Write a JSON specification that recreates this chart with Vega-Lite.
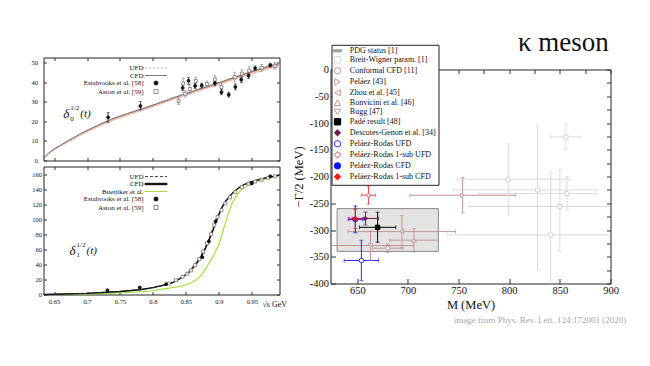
{
"$schema": "https://vega.github.io/schema/vega-lite/v6.json",
"background": "white",
"padding": {"left": 30.5, "top": 28.5, "right": 0, "bottom": 0},
"title": {"text": "κ meson", "anchor": "end", "font": "Liberation Serif", "fontSize": 27, "fontWeight": "normal", "color": "#111", "offset": 1, "dx": -18, "dy": 14},
"config": {"view": {"stroke": "#222", "strokeWidth": 1}, "axis": {"grid": false, "domain": false, "tickColor": "#333", "labelColor": "#111"}},
"datasets": {
"d0c": [
{"s":0.634,"cfd":0,"ufd":0,"lo":0,"hi":0},
{"s":0.636,"cfd":1.8,"ufd":1.8,"lo":1.3,"hi":1.9},
{"s":0.64,"cfd":3.2,"ufd":3.2,"lo":2.6,"hi":3.3},
{"s":0.645,"cfd":4.6,"ufd":4.6,"lo":3.9,"hi":4.7},
{"s":0.65,"cfd":5.9,"ufd":5.9,"lo":5.1,"hi":6.0},
{"s":0.66,"cfd":7.8,"ufd":7.8,"lo":7.0,"hi":7.9},
{"s":0.67,"cfd":9.8,"ufd":9.8,"lo":8.9,"hi":9.9},
{"s":0.68,"cfd":11.7,"ufd":11.7,"lo":10.8,"hi":11.8},
{"s":0.69,"cfd":13.6,"ufd":13.6,"lo":12.6,"hi":13.7},
{"s":0.70,"cfd":15.3,"ufd":15.3,"lo":14.3,"hi":15.5},
{"s":0.72,"cfd":18.5,"ufd":18.5,"lo":17.4,"hi":18.7},
{"s":0.74,"cfd":21.4,"ufd":21.4,"lo":20.3,"hi":21.6},
{"s":0.76,"cfd":23.8,"ufd":23.9,"lo":22.7,"hi":24.0},
{"s":0.78,"cfd":25.9,"ufd":26.0,"lo":24.8,"hi":26.2},
{"s":0.80,"cfd":28.2,"ufd":28.3,"lo":27.1,"hi":28.5},
{"s":0.82,"cfd":30.6,"ufd":30.7,"lo":29.5,"hi":30.9},
{"s":0.84,"cfd":33.0,"ufd":33.1,"lo":31.9,"hi":33.3},
{"s":0.86,"cfd":35.2,"ufd":35.4,"lo":34.1,"hi":35.5},
{"s":0.88,"cfd":37.4,"ufd":37.6,"lo":36.3,"hi":37.7},
{"s":0.90,"cfd":39.6,"ufd":39.8,"lo":38.4,"hi":39.9},
{"s":0.92,"cfd":41.9,"ufd":42.1,"lo":40.6,"hi":42.2},
{"s":0.94,"cfd":44.2,"ufd":44.5,"lo":42.9,"hi":44.5},
{"s":0.96,"cfd":46.4,"ufd":46.8,"lo":45.0,"hi":46.7},
{"s":0.98,"cfd":48.4,"ufd":48.9,"lo":46.9,"hi":48.7},
{"s":0.992,"cfd":49.4,"ufd":50.0,"lo":47.9,"hi":49.7}
],
"d0p": [
{"series":"Aston et al. [59]","s":0.839,"v":30.3,"lo":28.5,"hi":32.1},
{"series":"Aston et al. [59]","s":0.849,"v":34,"lo":32.3,"hi":35.7},
{"series":"Aston et al. [59]","s":0.846,"v":39.3,"lo":37,"hi":42},
{"series":"Aston et al. [59]","s":0.856,"v":36.5,"lo":34,"hi":39},
{"series":"Aston et al. [59]","s":0.865,"v":40.5,"lo":38.5,"hi":42.5},
{"series":"Aston et al. [59]","s":0.882,"v":39,"lo":37.5,"hi":40.5},
{"series":"Aston et al. [59]","s":0.894,"v":41.3,"lo":39.3,"hi":43.3},
{"series":"Aston et al. [59]","s":0.904,"v":37.5,"lo":35,"hi":40},
{"series":"Aston et al. [59]","s":0.924,"v":42.5,"lo":40,"hi":45},
{"series":"Aston et al. [59]","s":0.935,"v":44.3,"lo":42.3,"hi":46.3},
{"series":"Aston et al. [59]","s":0.946,"v":45.8,"lo":43.8,"hi":47.8},
{"series":"Aston et al. [59]","s":0.965,"v":47.2,"lo":45.5,"hi":48.9},
{"series":"Aston et al. [59]","s":0.985,"v":48.2,"lo":46.5,"hi":49.9},
{"series":"Estabrooks et al. [58]","s":0.732,"v":22,"lo":19.5,"hi":24.5},
{"series":"Estabrooks et al. [58]","s":0.781,"v":27.8,"lo":25.8,"hi":30},
{"series":"Estabrooks et al. [58]","s":0.845,"v":37,"lo":35.5,"hi":38.5},
{"series":"Estabrooks et al. [58]","s":0.854,"v":40.6,"lo":38.8,"hi":42.4},
{"series":"Estabrooks et al. [58]","s":0.864,"v":38,"lo":36.6,"hi":39.4},
{"series":"Estabrooks et al. [58]","s":0.874,"v":38.2,"lo":37,"hi":39.4},
{"series":"Estabrooks et al. [58]","s":0.894,"v":39.5,"lo":38,"hi":41},
{"series":"Estabrooks et al. [58]","s":0.904,"v":34.8,"lo":33.5,"hi":36.1},
{"series":"Estabrooks et al. [58]","s":0.915,"v":33.5,"lo":32.3,"hi":34.7},
{"series":"Estabrooks et al. [58]","s":0.925,"v":37.5,"lo":36,"hi":39},
{"series":"Estabrooks et al. [58]","s":0.934,"v":41.2,"lo":39.8,"hi":42.6},
{"series":"Estabrooks et al. [58]","s":0.945,"v":43.2,"lo":41.8,"hi":44.6},
{"series":"Estabrooks et al. [58]","s":0.955,"v":47,"lo":45.8,"hi":48.2},
{"series":"Estabrooks et al. [58]","s":0.978,"v":48.6,"lo":47.6,"hi":49.6}
],
"d1c": [
{"s":0.634,"cfd":0,"ufd":0,"bue":0,"lo":0,"hi":0},
{"s":0.65,"cfd":0.3,"ufd":0.3,"bue":0.1,"lo":0.2,"hi":0.4},
{"s":0.70,"cfd":1.6,"ufd":1.6,"bue":0.6,"lo":1.3,"hi":1.9},
{"s":0.75,"cfd":4.0,"ufd":4.0,"bue":2.0,"lo":3.5,"hi":4.5},
{"s":0.78,"cfd":6.3,"ufd":6.3,"bue":3.6,"lo":5.7,"hi":6.9},
{"s":0.80,"cfd":9.0,"ufd":9.0,"bue":5.0,"lo":8.3,"hi":9.7},
{"s":0.82,"cfd":13.0,"ufd":13.2,"bue":7.8,"lo":12.0,"hi":14.0},
{"s":0.83,"cfd":15.8,"ufd":16.1,"bue":9.2,"lo":14.6,"hi":17.0},
{"s":0.84,"cfd":20.5,"ufd":21.0,"bue":10.5,"lo":19.0,"hi":22.0},
{"s":0.85,"cfd":26.5,"ufd":27.3,"bue":13.0,"lo":24.5,"hi":28.5},
{"s":0.855,"cfd":30.0,"ufd":31.0,"bue":14.5,"lo":28.0,"hi":32.0},
{"s":0.86,"cfd":35.0,"ufd":36.2,"bue":16.5,"lo":32.5,"hi":37.5},
{"s":0.865,"cfd":40.0,"ufd":41.5,"bue":19.0,"lo":37.5,"hi":42.5},
{"s":0.87,"cfd":46.0,"ufd":47.8,"bue":22.5,"lo":43.0,"hi":49.0},
{"s":0.875,"cfd":53.0,"ufd":55.0,"bue":27.5,"lo":50.0,"hi":56.0},
{"s":0.88,"cfd":62.0,"ufd":64.0,"bue":34.0,"lo":58.5,"hi":65.5},
{"s":0.885,"cfd":72.0,"ufd":74.5,"bue":41.5,"lo":68.5,"hi":75.5},
{"s":0.89,"cfd":83.0,"ufd":85.5,"bue":49.0,"lo":79.5,"hi":86.5},
{"s":0.895,"cfd":95.0,"ufd":97.0,"bue":57.0,"lo":91.5,"hi":98.5},
{"s":0.90,"cfd":106.0,"ufd":107.5,"bue":66.0,"lo":103.0,"hi":109.0},
{"s":0.905,"cfd":116.0,"ufd":117.0,"bue":81.0,"lo":113.5,"hi":118.5},
{"s":0.91,"cfd":123.5,"ufd":124.0,"bue":95.0,"lo":121.5,"hi":125.5},
{"s":0.915,"cfd":129.0,"ufd":129.5,"bue":109.0,"lo":127.5,"hi":130.5},
{"s":0.92,"cfd":134.0,"ufd":134.3,"bue":121.0,"lo":132.5,"hi":135.5},
{"s":0.925,"cfd":138.0,"ufd":138.2,"bue":129.0,"lo":136.8,"hi":139.2},
{"s":0.93,"cfd":141.5,"ufd":141.6,"bue":135.0,"lo":140.3,"hi":142.7},
{"s":0.935,"cfd":144.5,"ufd":144.6,"bue":140.0,"lo":143.4,"hi":145.6},
{"s":0.945,"cfd":148.5,"ufd":148.6,"bue":145.5,"lo":147.5,"hi":149.5},
{"s":0.955,"cfd":151.2,"ufd":151.3,"bue":149.5,"lo":150.2,"hi":152.2},
{"s":0.965,"cfd":153.6,"ufd":153.7,"bue":152.0,"lo":152.6,"hi":154.6},
{"s":0.975,"cfd":155.6,"ufd":155.7,"bue":154.4,"lo":154.6,"hi":156.6},
{"s":0.985,"cfd":157.3,"ufd":157.4,"bue":156.3,"lo":156.3,"hi":158.3},
{"s":0.992,"cfd":158.5,"ufd":158.6,"bue":157.6,"lo":157.5,"hi":159.5}
],
"d1p": [
{"series":"Aston et al. [59]","s":0.824,"v":14.5,"lo":13,"hi":16},
{"series":"Aston et al. [59]","s":0.835,"v":19,"lo":17.5,"hi":20.5},
{"series":"Aston et al. [59]","s":0.845,"v":23.5,"lo":22,"hi":25},
{"series":"Aston et al. [59]","s":0.852,"v":27.5,"lo":26,"hi":29},
{"series":"Aston et al. [59]","s":0.858,"v":32,"lo":30.5,"hi":33.5},
{"series":"Aston et al. [59]","s":0.864,"v":39,"lo":37.5,"hi":40.5},
{"series":"Aston et al. [59]","s":0.870,"v":47,"lo":45.5,"hi":48.5},
{"series":"Aston et al. [59]","s":0.876,"v":57,"lo":55.5,"hi":58.5},
{"series":"Aston et al. [59]","s":0.882,"v":68,"lo":66.5,"hi":69.5},
{"series":"Aston et al. [59]","s":0.888,"v":80,"lo":78.5,"hi":81.5},
{"series":"Aston et al. [59]","s":0.893,"v":92,"lo":90.5,"hi":93.5},
{"series":"Aston et al. [59]","s":0.898,"v":103,"lo":101.5,"hi":104.5},
{"series":"Aston et al. [59]","s":0.904,"v":112,"lo":110.5,"hi":113.5},
{"series":"Aston et al. [59]","s":0.910,"v":121,"lo":119.5,"hi":122.5},
{"series":"Aston et al. [59]","s":0.917,"v":129,"lo":127.5,"hi":130.5},
{"series":"Aston et al. [59]","s":0.925,"v":136,"lo":134.5,"hi":137.5},
{"series":"Aston et al. [59]","s":0.935,"v":142.5,"lo":141,"hi":144},
{"series":"Aston et al. [59]","s":0.945,"v":147,"lo":145.5,"hi":148.5},
{"series":"Aston et al. [59]","s":0.955,"v":150,"lo":148.5,"hi":151.5},
{"series":"Aston et al. [59]","s":0.965,"v":152.5,"lo":151,"hi":154},
{"series":"Aston et al. [59]","s":0.975,"v":155,"lo":153.5,"hi":156.5},
{"series":"Aston et al. [59]","s":0.985,"v":157,"lo":155.5,"hi":158.5},
{"series":"Estabrooks et al. [58]","s":0.731,"v":5.7,"lo":4.2,"hi":7.2},
{"series":"Estabrooks et al. [58]","s":0.780,"v":9.3,"lo":7.8,"hi":10.8},
{"series":"Estabrooks et al. [58]","s":0.820,"v":13.7,"lo":12.2,"hi":15.2},
{"series":"Estabrooks et al. [58]","s":0.875,"v":49.5,"lo":47.5,"hi":51.5},
{"series":"Estabrooks et al. [58]","s":0.885,"v":70.5,"lo":68,"hi":73},
{"series":"Estabrooks et al. [58]","s":0.895,"v":97,"lo":93.5,"hi":100.5},
{"series":"Estabrooks et al. [58]","s":0.950,"v":147.5,"lo":146,"hi":149},
{"series":"Estabrooks et al. [58]","s":0.978,"v":157,"lo":155.5,"hi":158.5}
],
"kappa": [
{"series":"Breit-Wigner param. [1]","M":856,"G":-126,"Mlo":841,"Mhi":871,"Glo":-150,"Ghi":-102},
{"series":"Breit-Wigner param. [1]","M":799,"G":-205,"Mlo":749,"Mhi":860,"Glo":-272,"Ghi":-139},
{"series":"Breit-Wigner param. [1]","M":828,"G":-225,"Mlo":745,"Mhi":887,"Glo":-375,"Ghi":-105},
{"series":"Breit-Wigner param. [1]","M":857,"G":-232,"Mlo":770,"Mhi":887,"Glo":-262,"Ghi":-200},
{"series":"Breit-Wigner param. [1]","M":850,"G":-256,"Mlo":760,"Mhi":905,"Glo":-340,"Ghi":-187},
{"series":"Breit-Wigner param. [1]","M":841,"G":-309,"Mlo":739,"Mhi":905,"Glo":-410,"Ghi":-192},
{"series":"Conformal CFD [11]","M":680,"G":-334,"Mlo":665,"Mhi":695,"Glo":-342,"Ghi":-326},
{"series":"Peláez [43]","M":754,"G":-235,"Mlo":702,"Mhi":806,"Glo":-268,"Ghi":-202},
{"series":"Zhou et al. [45]","M":694,"G":-303,"Mlo":641,"Mhi":747,"Glo":-333,"Ghi":-273},
{"series":"Bonvicini et al. [46]","M":706,"G":-319,"Mlo":682,"Mhi":730,"Glo":-341,"Ghi":-297},
{"series":"Bugg [47]","M":663,"G":-329,"Mlo":621,"Mhi":705,"Glo":-356,"Ghi":-302},
{"series":"Padé result [48]","M":670,"G":-295,"Mlo":652,"Mhi":688,"Glo":-323,"Ghi":-267},
{"series":"Descotes-Genon et al. [34]","M":658,"G":-278.5,"Mlo":645,"Mhi":671,"Glo":-290.5,"Ghi":-266.5},
{"series":"Peláez-Rodas UFD","M":654,"G":-357,"Mlo":637,"Mhi":671,"Glo":-395,"Ghi":-319},
{"series":"Peláez-Rodas 1-sub UFD","M":661,"G":-235,"Mlo":654,"Mhi":668,"Glo":-252,"Ghi":-218},
{"series":"Peláez-Rodas CFD","M":648,"G":-280,"Mlo":641,"Mhi":655,"Glo":-305,"Ghi":-255},
{"series":"Peláez-Rodas 1-sub CFD","M":648,"G":-279,"Mlo":642,"Mhi":656,"Glo":-297,"Ghi":-261}
],
"pdg": [{"M1":630,"M2":730,"G1":-260,"G2":-340}]
},
"spacing": 4,
"resolve": {"scale": {"color":"independent","shape":"independent","fill":"independent","stroke":"independent","size":"independent"}, "legend": {"color":"independent","shape":"independent","fill":"independent","stroke":"independent","size":"independent"}},
"hconcat": [
{"vconcat": [
{"width": 236, "height": 103,
 "layer": [
  {"layer": [
   {"data":{"name":"d0c"},"mark":{"type":"area","color":"#f3b9a6"},
    "encoding":{"x":{"field":"s","type":"quantitative","scale":{"domain":[0.634,0.992],"nice":false,"zero":false},"axis":{"values":[0.65,0.7,0.75,0.8,0.85,0.9,0.95],"tickCount":100,"labels":false,"tickSize":-3,"title":null,"minExtent":0,"maxExtent":0}},
     "y":{"field":"lo","type":"quantitative","scale":{"domain":[0,52.5],"nice":false},"axis":{"values":[0,10,20,30,40,50],"tickCount":100,"labelExpr":"'' + datum.value","tickSize":-3,"labelOverlap":false,"labelFlush":false,"labelFont":"Liberation Serif","labelFontSize":6.5,"labelPadding":9,"title":null}},
     "y2":{"field":"hi"}}},
   {"data":{"name":"d0c"},"mark":{"type":"line","color":"#666","strokeWidth":1},"encoding":{"x":{"field":"s","type":"quantitative"},"y":{"field":"cfd","type":"quantitative"}}},
   {"data":{"name":"d0c"},"mark":{"type":"line","color":"#999","strokeWidth":1,"strokeDash":[2,2]},"encoding":{"x":{"field":"s","type":"quantitative"},"y":{"field":"ufd","type":"quantitative"}}},
   {"data":{"name":"d0p"},"mark":{"type":"rule","strokeWidth":0.8},"encoding":{"x":{"field":"s","type":"quantitative"},"y":{"field":"lo","type":"quantitative"},"y2":{"field":"hi"},"color":{"field":"series","type":"nominal","scale":{"domain":["Estabrooks et al. [58]","Aston et al. [59]"],"range":["#222","#888"]},"legend":null}}},
   {"data":{"name":"d0p"},"mark":{"type":"tick","orient":"horizontal","size":3,"thickness":0.8},"encoding":{"x":{"field":"s","type":"quantitative"},"y":{"field":"lo","type":"quantitative"},"color":{"field":"series","type":"nominal","legend":null}}},
   {"data":{"name":"d0p"},"mark":{"type":"tick","orient":"horizontal","size":3,"thickness":0.8},"encoding":{"x":{"field":"s","type":"quantitative"},"y":{"field":"hi","type":"quantitative"},"color":{"field":"series","type":"nominal","legend":null}}},
   {"data":{"name":"d0p"},"mark":{"type":"point","strokeWidth":0.8,"opacity":1,"size":9},"encoding":{"x":{"field":"s","type":"quantitative"},"y":{"field":"v","type":"quantitative"},
     "shape":{"field":"series","type":"nominal","scale":{"domain":["UFD","CFD","Estabrooks et al. [58]","Aston et al. [59]"],"range":["M-5.5,0H-4.5M-3.5,0H-2.5M-1.5,0H-0.5M0.5,0H1.5M2.5,0H3.5M4.5,0H5.5","M-5.5,0H5.5","circle","square"]},
       "legend":{"title":null,"orient":"none","legendX":109,"legendY":7,"labelAlign":"right","labelOffset":-16,"symbolSize":16,"symbolStrokeWidth":0.8,"labelFont":"Liberation Serif","labelFontSize":7,"labelColor":"#111","rowPadding":-0.5,"padding":0}},
     "stroke":{"field":"series","type":"nominal","scale":{"domain":["UFD","CFD","Estabrooks et al. [58]","Aston et al. [59]"],"range":["#999","#555","#111","#777"]}},
     "fill":{"field":"series","type":"nominal","scale":{"domain":["UFD","CFD","Estabrooks et al. [58]","Aston et al. [59]"],"range":["#999","#555","#111","#fff"]}}}},
   {"data":{"values":[{"s":0.664,"v":23.5}]},"mark":{"type":"text","text":"δ","font":"Liberation Serif","fontStyle":"italic","fontSize":13,"align":"left","baseline":"middle","color":"#111"},"encoding":{"x":{"field":"s","type":"quantitative"},"y":{"field":"v","type":"quantitative"}}},
   {"data":{"values":[{"s":0.664,"v":23.5}]},"mark":{"type":"text","text":"1/2","font":"Liberation Serif","fontSize":7,"align":"left","baseline":"middle","dx":7,"dy":-6,"color":"#111"},"encoding":{"x":{"field":"s","type":"quantitative"},"y":{"field":"v","type":"quantitative"}}},
   {"data":{"values":[{"s":0.664,"v":23.5}]},"mark":{"type":"text","text":"0","font":"Liberation Serif","fontSize":7,"align":"left","baseline":"middle","dx":7,"dy":4.5,"color":"#111"},"encoding":{"x":{"field":"s","type":"quantitative"},"y":{"field":"v","type":"quantitative"}}},
   {"data":{"values":[{"s":0.664,"v":23.5}]},"mark":{"type":"text","text":"(t)","font":"Liberation Serif","fontStyle":"italic","fontSize":11,"align":"left","baseline":"middle","dx":17,"color":"#111"},"encoding":{"x":{"field":"s","type":"quantitative"},"y":{"field":"v","type":"quantitative"}}}
  ]},
  {"data":{"values":[{"s":0.8,"v":10}]},"mark":{"type":"point","opacity":0},"encoding":{"x":{"field":"s","type":"quantitative","axis":{"orient":"top","values":[0.65,0.7,0.75,0.8,0.85,0.9,0.95],"tickCount":100,"labels":false,"tickSize":-3,"title":null,"minExtent":0,"maxExtent":0}},"y":{"field":"v","type":"quantitative","axis":{"orient":"right","values":[0,10,20,30,40,50],"tickCount":100,"labels":false,"tickSize":-3,"title":null,"minExtent":0,"maxExtent":0}}}}
 ],
 "resolve":{"axis":{"x":"independent","y":"independent"}}
},
{"width": 236, "height": 128,
 "layer": [
  {"layer": [
   {"data":{"name":"d1c"},"mark":{"type":"area","color":"#f5c3b8"},
    "encoding":{"x":{"field":"s","type":"quantitative","scale":{"domain":[0.634,0.992],"nice":false,"zero":false},"axis":{"values":[0.65,0.7,0.75,0.8,0.85,0.9,0.95],"tickCount":100,"labelExpr":"'' + datum.value","tickSize":-3,"labelOverlap":false,"labelFlush":false,"labelFont":"Liberation Serif","labelFontSize":6.5,"labelPadding":7,"title":"√s GeV","titleFont":"Liberation Serif","titleFontSize":8,"titleFontWeight":"normal","titleColor":"#111","titleX":243,"titleY":12,"titleAlign":"right","titleBaseline":"alphabetic"}},
     "y":{"field":"lo","type":"quantitative","scale":{"domain":[0,170],"nice":false},"axis":{"values":[0,20,40,60,80,100,120,140,160],"tickCount":100,"labelExpr":"'' + datum.value","tickSize":-3,"labelOverlap":false,"labelFlush":false,"labelFont":"Liberation Serif","labelFontSize":6.5,"labelPadding":5,"title":null}},
     "y2":{"field":"hi"}}},
   {"data":{"name":"d1c"},"mark":{"type":"line","color":"#9be22d","strokeWidth":1.1},"encoding":{"x":{"field":"s","type":"quantitative"},"y":{"field":"bue","type":"quantitative"}}},
   {"data":{"name":"d1c"},"mark":{"type":"line","color":"#000","strokeWidth":1.3},"encoding":{"x":{"field":"s","type":"quantitative"},"y":{"field":"cfd","type":"quantitative"}}},
   {"data":{"name":"d1c"},"mark":{"type":"line","color":"#333","strokeWidth":1,"strokeDash":[3,2]},"encoding":{"x":{"field":"s","type":"quantitative"},"y":{"field":"ufd","type":"quantitative"}}},
   {"data":{"name":"d1p"},"mark":{"type":"rule","strokeWidth":0.8},"encoding":{"x":{"field":"s","type":"quantitative"},"y":{"field":"lo","type":"quantitative"},"y2":{"field":"hi"},"color":{"field":"series","type":"nominal","scale":{"domain":["Estabrooks et al. [58]","Aston et al. [59]"],"range":["#222","#888"]},"legend":null}}},
   {"data":{"name":"d1p"},"mark":{"type":"point","strokeWidth":0.8,"opacity":1,"size":9},"encoding":{"x":{"field":"s","type":"quantitative"},"y":{"field":"v","type":"quantitative"},
     "shape":{"field":"series","type":"nominal","scale":{"domain":["UFD","CFD","Buettiker et al.","Estabrooks et al. [58]","Aston et al. [59]"],"range":["M-5.5,0H-4M-3,0H-1.5M-0.5,0H1M2,0H3.5M4.5,0H5.5","M-5.5,-0.35H5.5V0.35H-5.5Z","M-5.5,0H5.5","circle","square"]},
       "legend":{"title":null,"orient":"none","legendX":109,"legendY":6.5,"labelAlign":"right","labelOffset":-16,"symbolSize":16,"symbolStrokeWidth":0.9,"labelFont":"Liberation Serif","labelFontSize":7,"labelColor":"#111","rowPadding":-0.5,"padding":0}},
     "stroke":{"field":"series","type":"nominal","scale":{"domain":["UFD","CFD","Buettiker et al.","Estabrooks et al. [58]","Aston et al. [59]"],"range":["#333","#000","#9be22d","#111","#777"]}},
     "fill":{"field":"series","type":"nominal","scale":{"domain":["UFD","CFD","Buettiker et al.","Estabrooks et al. [58]","Aston et al. [59]"],"range":["#333","#000","#9be22d","#111","#fff"]}}}},
   {"data":{"values":[{"s":0.6735,"v":58}]},"mark":{"type":"text","text":"δ","font":"Liberation Serif","fontStyle":"italic","fontSize":13,"align":"left","baseline":"middle","color":"#111"},"encoding":{"x":{"field":"s","type":"quantitative"},"y":{"field":"v","type":"quantitative"}}},
   {"data":{"values":[{"s":0.6735,"v":58}]},"mark":{"type":"text","text":"1/2","font":"Liberation Serif","fontSize":7,"align":"left","baseline":"middle","dx":7,"dy":-6,"color":"#111"},"encoding":{"x":{"field":"s","type":"quantitative"},"y":{"field":"v","type":"quantitative"}}},
   {"data":{"values":[{"s":0.6735,"v":58}]},"mark":{"type":"text","text":"1","font":"Liberation Serif","fontSize":7,"align":"left","baseline":"middle","dx":7,"dy":4.5,"color":"#111"},"encoding":{"x":{"field":"s","type":"quantitative"},"y":{"field":"v","type":"quantitative"}}},
   {"data":{"values":[{"s":0.6735,"v":58}]},"mark":{"type":"text","text":"(t)","font":"Liberation Serif","fontStyle":"italic","fontSize":11,"align":"left","baseline":"middle","dx":17,"color":"#111"},"encoding":{"x":{"field":"s","type":"quantitative"},"y":{"field":"v","type":"quantitative"}}}
  ]},
  {"data":{"values":[{"s":0.8,"v":10}]},"mark":{"type":"point","opacity":0},"encoding":{"x":{"field":"s","type":"quantitative","axis":{"orient":"top","values":[0.65,0.7,0.75,0.8,0.85,0.9,0.95],"tickCount":100,"labels":false,"tickSize":-3,"title":null,"minExtent":0,"maxExtent":0}},"y":{"field":"v","type":"quantitative","axis":{"orient":"right","values":[0,20,40,60,80,100,120,140,160],"tickCount":100,"labels":false,"tickSize":-3,"title":null,"minExtent":0,"maxExtent":0}}}}
 ],
 "resolve":{"axis":{"x":"independent","y":"independent"}}
}
], "spacing": 1,
 "resolve": {"scale": {"color":"independent","shape":"independent","fill":"independent","stroke":"independent","size":"independent"}, "legend": {"color":"independent","shape":"independent","fill":"independent","stroke":"independent","size":"independent"}}},
{"vconcat": [
{"width": 280, "height": 1, "data": {"values": [{"a": 1}]}, "mark": {"type": "point", "opacity": 0}, "encoding": {}, "view": {"stroke": null}},
{"width": 280, "height": 214,
 "title": {"text": "image from Phys. Rev. Lett. 124:172001  (2020)", "orient": "bottom", "anchor": "end", "font": "Liberation Sans Narrow", "fontSize": 9, "fontWeight": "normal", "color": "#a8a8a8", "offset": 5, "dx": 8},
 "layer": [
  {"layer": [
   {"data":{"name":"pdg"},"mark":{"type":"rect","fill":"#e3e3e3","stroke":"#8a8a8a","strokeWidth":1},
    "encoding":{"x":{"field":"M1","type":"quantitative","scale":{"domain":[623.5,900],"nice":false,"zero":false},
      "axis":{"values":[650,700,750,800,850,900],"tickCount":100,"labelOverlap":false,"labelFlush":false,"labelExpr":"'' + datum.value","title":"M (MeV)","titleFont":"Liberation Serif","titleFontSize":12.5,"titleFontWeight":"normal","titleColor":"#111","labelFont":"Liberation Serif","labelFontSize":10.5,"tickSize":-5,"labelPadding":7,"titlePadding":2}},
     "x2":{"field":"M2"},
     "y":{"field":"G1","type":"quantitative","scale":{"domain":[-400,0],"nice":false,"zero":false},
      "axis":{"values":[-400,-350,-300,-250,-200,-150,-100,-50,0],"tickCount":100,"labelOverlap":false,"labelFlush":false,"labelExpr":"'' + datum.value","title":"−Γ/2 (MeV)","titleFont":"Liberation Serif","titleFontSize":12.5,"titleFontWeight":"normal","titleColor":"#111","labelFont":"Liberation Serif","labelFontSize":10.5,"tickSize":-5,"labelPadding":7,"titlePadding":4}},
     "y2":{"field":"G2"}}},
   {"data":{"name":"kappa"},"mark":{"type":"rule","strokeWidth":1,"clip":true},"encoding":{"x":{"field":"Mlo","type":"quantitative"},"x2":{"field":"Mhi"},"y":{"field":"G","type":"quantitative"},
     "color":{"field":"series","type":"nominal","legend":null,"scale":{"domain":["Breit-Wigner param. [1]","Conformal CFD [11]","Peláez [43]","Zhou et al. [45]","Bonvicini et al. [46]","Bugg [47]","Padé result [48]","Descotes-Genon et al. [34]","Peláez-Rodas UFD","Peláez-Rodas 1-sub UFD","Peláez-Rodas CFD","Peláez-Rodas 1-sub CFD"],"range":["#dadada","#c49494","#c49494","#c49494","#c49494","#c49494","#000000","#6d1f4e","#2a2aff","#ff4a4a","#1010ff","#ff1010"]}}}},
   {"data":{"name":"kappa"},"mark":{"type":"rule","strokeWidth":1,"clip":true},"encoding":{"x":{"field":"M","type":"quantitative"},"y":{"field":"Glo","type":"quantitative"},"y2":{"field":"Ghi"},"color":{"field":"series","type":"nominal","legend":null}}},
   {"data":{"name":"kappa"},"mark":{"type":"tick","orient":"horizontal","size":4,"thickness":1,"clip":true},"encoding":{"x":{"field":"M","type":"quantitative"},"y":{"field":"Glo","type":"quantitative"},"color":{"field":"series","type":"nominal","legend":null}}},
   {"data":{"name":"kappa"},"mark":{"type":"tick","orient":"horizontal","size":4,"thickness":1,"clip":true},"encoding":{"x":{"field":"M","type":"quantitative"},"y":{"field":"Ghi","type":"quantitative"},"color":{"field":"series","type":"nominal","legend":null}}},
   {"data":{"name":"kappa"},"mark":{"type":"tick","orient":"vertical","size":4,"thickness":1,"clip":true},"encoding":{"x":{"field":"Mlo","type":"quantitative"},"y":{"field":"G","type":"quantitative"},"color":{"field":"series","type":"nominal","legend":null}}},
   {"data":{"name":"kappa"},"mark":{"type":"tick","orient":"vertical","size":4,"thickness":1,"clip":true},"encoding":{"x":{"field":"Mhi","type":"quantitative"},"y":{"field":"G","type":"quantitative"},"color":{"field":"series","type":"nominal","legend":null}}},
   {"data":{"name":"kappa"},"mark":{"type":"point","strokeWidth":1,"opacity":1},"encoding":{"x":{"field":"M","type":"quantitative"},"y":{"field":"G","type":"quantitative"},
     "shape":{"field":"series","type":"nominal","scale":{"domain":["PDG status [1]","Breit-Wigner param. [1]","Conformal CFD [11]","Peláez [43]","Zhou et al. [45]","Bonvicini et al. [46]","Bugg [47]","Padé result [48]","Descotes-Genon et al. [34]","Peláez-Rodas UFD","Peláez-Rodas 1-sub UFD","Peláez-Rodas CFD","Peláez-Rodas 1-sub CFD"],"range":["M-1.25,-0.35H1.25V0.35H-1.25Z","square","circle","triangle-right","triangle-left","triangle-up","triangle-down","square","diamond","circle","diamond","circle","diamond"]},
       "legend":{"title":null,"orient":"none","legendX":1,"legendY":-12.7,"labelFont":"Liberation Serif","labelFontSize":8,"labelColor":"#111","rowPadding":-1,"padding":2,"strokeColor":"#222","fillColor":"white","labelOffset":8.3,"labelLimit":300,"symbolSize":40,"symbolStrokeWidth":1}},
     "stroke":{"field":"series","type":"nominal","scale":{"domain":["PDG status [1]","Breit-Wigner param. [1]","Conformal CFD [11]","Peláez [43]","Zhou et al. [45]","Bonvicini et al. [46]","Bugg [47]","Padé result [48]","Descotes-Genon et al. [34]","Peláez-Rodas UFD","Peláez-Rodas 1-sub UFD","Peláez-Rodas CFD","Peláez-Rodas 1-sub CFD"],"range":["#a0a0a0","#d4d4d4","#c49494","#c49494","#c49494","#c49494","#c49494","#000000","#6d1f4e","#2a2aff","#ff4a4a","#1010ff","#ff1010"]}},
     "fill":{"field":"series","type":"nominal","scale":{"domain":["PDG status [1]","Breit-Wigner param. [1]","Conformal CFD [11]","Peláez [43]","Zhou et al. [45]","Bonvicini et al. [46]","Bugg [47]","Padé result [48]","Descotes-Genon et al. [34]","Peláez-Rodas UFD","Peláez-Rodas 1-sub UFD","Peláez-Rodas CFD","Peláez-Rodas 1-sub CFD"],"range":["#a0a0a0","#ffffff","#ffffff","#ffffff","#ffffff","#ffffff","#ffffff","#000000","#6d1f4e","#ffffff","#ffffff","#1010ff","#ff1010"]}},
     "size":{"field":"series","type":"nominal","legend":null,"scale":{"domain":["Breit-Wigner param. [1]","Conformal CFD [11]","Peláez [43]","Zhou et al. [45]","Bonvicini et al. [46]","Bugg [47]","Padé result [48]","Descotes-Genon et al. [34]","Peláez-Rodas UFD","Peláez-Rodas 1-sub UFD","Peláez-Rodas CFD","Peláez-Rodas 1-sub CFD"],"range":[16,22,22,22,22,22,45,45,40,30,70,55]}}}}
  ]},
  {"data":{"name":"pdg"},"mark":{"type":"point","opacity":0},"encoding":{"x":{"field":"M1","type":"quantitative","axis":{"orient":"top","values":[625,650,675,700,725,750,775,800,825,850,875,900],"tickCount":100,"labels":false,"title":null,"tickSize":-4,"minExtent":0,"maxExtent":0}},"y":{"field":"G1","type":"quantitative","axis":{"orient":"right","values":[-400,-375,-350,-325,-300,-275,-250,-225,-200,-175,-150,-125,-100,-75,-50,-25,0],"tickCount":100,"labels":false,"title":null,"tickSize":-4,"minExtent":0,"maxExtent":0}}}}
 ],
 "resolve":{"axis":{"x":"independent","y":"independent"}}
}
], "spacing": 2}
]
}
